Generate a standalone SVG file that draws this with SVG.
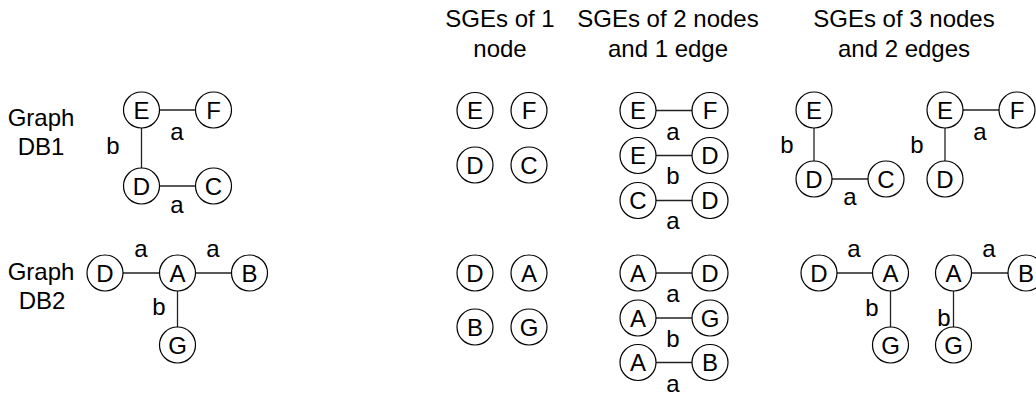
<svg xmlns="http://www.w3.org/2000/svg" width="1036" height="398" viewBox="0 0 1036 398">
  <style>
    text { font-family: "Liberation Sans", Arial, sans-serif; font-size: 24px; fill: #000; text-anchor: middle; }
    .node use { fill: #fff; stroke: #000; stroke-width: 1.2; }
    .edges line { stroke: #222; stroke-width: 1.3; }
  </style>
  <defs>
    <circle id="ring" r="18"/>
  </defs>
  <rect width="1036" height="398" fill="#fff"/>

  <!-- column headings -->
  <g id="headings">
    <text x="500" y="27">SGEs of 1</text>
    <text x="500" y="57">node</text>
    <text x="668" y="27">SGEs of 2 nodes</text>
    <text x="668" y="57">and 1 edge</text>
    <text x="904" y="27">SGEs of 3 nodes</text>
    <text x="904" y="57">and 2 edges</text>
  </g>

  <!-- graph titles -->
  <g id="titles">
    <text x="41" y="126">Graph</text>
    <text x="41" y="155">DB1</text>
    <text x="41" y="280">Graph</text>
    <text x="42" y="309">DB2</text>
  </g>

  <!-- all connectors, drawn under the nodes -->
  <g id="connectors" class="edges">
    <!-- DB1 -->
    <line x1="141.5" y1="110" x2="213.5" y2="110"/>
    <line x1="141.5" y1="110" x2="141.5" y2="186"/>
    <line x1="141.5" y1="186" x2="213.5" y2="186"/>
    <!-- DB2 -->
    <line x1="105" y1="273" x2="249.5" y2="273"/>
    <line x1="177.5" y1="273" x2="177.5" y2="345"/>
    <!-- two-node subgraphs -->
    <line x1="638" y1="110.5" x2="710" y2="110.5"/>
    <line x1="638" y1="155.5" x2="710" y2="155.5"/>
    <line x1="638" y1="200.5" x2="710" y2="200.5"/>
    <line x1="638" y1="273" x2="710" y2="273"/>
    <line x1="638" y1="318" x2="710" y2="318"/>
    <line x1="638" y1="362.5" x2="710" y2="362.5"/>
    <!-- three-node subgraphs, DB1 -->
    <line x1="814" y1="110" x2="814" y2="179"/>
    <line x1="814" y1="179" x2="886" y2="179"/>
    <line x1="945" y1="110" x2="1017" y2="110"/>
    <line x1="945" y1="110" x2="945" y2="179"/>
    <!-- three-node subgraphs, DB2 -->
    <line x1="819" y1="273" x2="890.5" y2="273"/>
    <line x1="890.5" y1="273" x2="890.5" y2="345"/>
    <line x1="953.5" y1="273" x2="1026" y2="273"/>
    <line x1="953.5" y1="273" x2="953.5" y2="345"/>
  </g>

  <!-- edge labels -->
  <g id="edge-labels">
    <text x="113" y="154">b</text>
    <text x="177" y="140">a</text>
    <text x="177" y="213">a</text>
    <text x="141" y="257">a</text>
    <text x="213" y="257">a</text>
    <text x="159" y="315">b</text>
    <text x="673" y="139.5">a</text>
    <text x="673" y="184">b</text>
    <text x="673" y="229">a</text>
    <text x="673" y="302">a</text>
    <text x="673" y="347">b</text>
    <text x="673" y="391.5">a</text>
    <text x="787" y="153">b</text>
    <text x="850" y="205">a</text>
    <text x="980" y="140">a</text>
    <text x="917" y="153">b</text>
    <text x="854" y="257">a</text>
    <text x="872" y="316">b</text>
    <text x="989" y="257">a</text>
    <text x="944" y="326">b</text>
  </g>

  <!-- Graph DB1 -->
  <g id="db1-E" class="node"><use href="#ring" x="141.5" y="110"/><text x="141.5" y="118.6">E</text></g>
  <g id="db1-F" class="node"><use href="#ring" x="213.5" y="110"/><text x="213.5" y="118.6">F</text></g>
  <g id="db1-D" class="node"><use href="#ring" x="141.5" y="186"/><text x="141.5" y="194.6">D</text></g>
  <g id="db1-C" class="node"><use href="#ring" x="213.5" y="186"/><text x="213.5" y="194.6">C</text></g>

  <!-- Graph DB2 -->
  <g id="db2-D" class="node"><use href="#ring" x="105" y="273"/><text x="105" y="281.6">D</text></g>
  <g id="db2-A" class="node"><use href="#ring" x="177.5" y="273"/><text x="177.5" y="281.6">A</text></g>
  <g id="db2-B" class="node"><use href="#ring" x="249.5" y="273"/><text x="249.5" y="281.6">B</text></g>
  <g id="db2-G" class="node"><use href="#ring" x="177.5" y="345"/><text x="177.5" y="353.6">G</text></g>

  <!-- single-node subgraphs -->
  <g id="s1-E" class="node"><use href="#ring" x="475" y="110.5"/><text x="475" y="119.1">E</text></g>
  <g id="s1-F" class="node"><use href="#ring" x="529" y="110.5"/><text x="529" y="119.1">F</text></g>
  <g id="s1-D" class="node"><use href="#ring" x="475" y="165"/><text x="475" y="173.6">D</text></g>
  <g id="s1-C" class="node"><use href="#ring" x="529" y="165"/><text x="529" y="173.6">C</text></g>
  <g id="s2-D" class="node"><use href="#ring" x="475" y="273"/><text x="475" y="281.6">D</text></g>
  <g id="s2-A" class="node"><use href="#ring" x="529" y="273"/><text x="529" y="281.6">A</text></g>
  <g id="s2-B" class="node"><use href="#ring" x="475" y="327"/><text x="475" y="335.6">B</text></g>
  <g id="s2-G" class="node"><use href="#ring" x="529" y="327"/><text x="529" y="335.6">G</text></g>

  <!-- two-node subgraphs, DB1 -->
  <g id="p1-E1" class="node"><use href="#ring" x="638" y="110.5"/><text x="638" y="119.1">E</text></g>
  <g id="p1-F1" class="node"><use href="#ring" x="710" y="110.5"/><text x="710" y="119.1">F</text></g>
  <g id="p1-E2" class="node"><use href="#ring" x="638" y="155.5"/><text x="638" y="164.1">E</text></g>
  <g id="p1-D2" class="node"><use href="#ring" x="710" y="155.5"/><text x="710" y="164.1">D</text></g>
  <g id="p1-C3" class="node"><use href="#ring" x="638" y="200.5"/><text x="638" y="209.1">C</text></g>
  <g id="p1-D3" class="node"><use href="#ring" x="710" y="200.5"/><text x="710" y="209.1">D</text></g>

  <!-- two-node subgraphs, DB2 -->
  <g id="p2-A1" class="node"><use href="#ring" x="638" y="273"/><text x="638" y="281.6">A</text></g>
  <g id="p2-D1" class="node"><use href="#ring" x="710" y="273"/><text x="710" y="281.6">D</text></g>
  <g id="p2-A2" class="node"><use href="#ring" x="638" y="318"/><text x="638" y="326.6">A</text></g>
  <g id="p2-G2" class="node"><use href="#ring" x="710" y="318"/><text x="710" y="326.6">G</text></g>
  <g id="p2-A3" class="node"><use href="#ring" x="638" y="362.5"/><text x="638" y="371.1">A</text></g>
  <g id="p2-B3" class="node"><use href="#ring" x="710" y="362.5"/><text x="710" y="371.1">B</text></g>

  <!-- three-node subgraphs, DB1 -->
  <g id="t1-E1" class="node"><use href="#ring" x="814" y="110"/><text x="814" y="118.6">E</text></g>
  <g id="t1-D1" class="node"><use href="#ring" x="814" y="179"/><text x="814" y="187.6">D</text></g>
  <g id="t1-C1" class="node"><use href="#ring" x="886" y="179"/><text x="886" y="187.6">C</text></g>
  <g id="t1-E2" class="node"><use href="#ring" x="945" y="110"/><text x="945" y="118.6">E</text></g>
  <g id="t1-F2" class="node"><use href="#ring" x="1017" y="110"/><text x="1017" y="118.6">F</text></g>
  <g id="t1-D2" class="node"><use href="#ring" x="945" y="179"/><text x="945" y="187.6">D</text></g>

  <!-- three-node subgraphs, DB2 -->
  <g id="t2-D1" class="node"><use href="#ring" x="819" y="273"/><text x="819" y="281.6">D</text></g>
  <g id="t2-A1" class="node"><use href="#ring" x="890.5" y="273"/><text x="890.5" y="281.6">A</text></g>
  <g id="t2-G1" class="node"><use href="#ring" x="890.5" y="345"/><text x="890.5" y="353.6">G</text></g>
  <g id="t2-A2" class="node"><use href="#ring" x="953.5" y="273"/><text x="953.5" y="281.6">A</text></g>
  <g id="t2-B2" class="node"><use href="#ring" x="1026" y="273"/><text x="1026" y="281.6">B</text></g>
  <g id="t2-G2" class="node"><use href="#ring" x="953.5" y="345"/><text x="953.5" y="353.6">G</text></g>
</svg>
